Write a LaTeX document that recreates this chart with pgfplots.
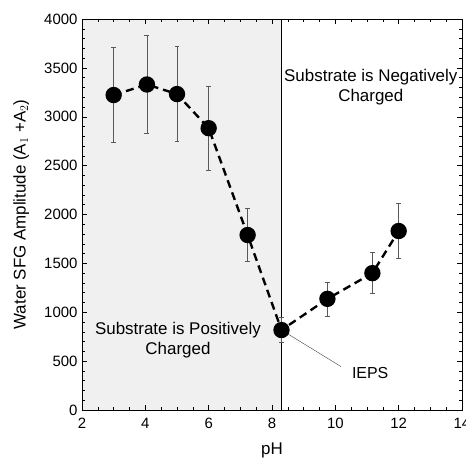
\documentclass[border=0pt]{standalone}
\usepackage{fontspec}
\setmainfont{Liberation Sans}
\usepackage{pgfplots}
\usetikzlibrary{calc}
\pgfplotsset{compat=1.18}
\begin{document}
\begin{tikzpicture}
\begin{axis}[
  scale only axis, width=380bp, height=391bp,
  xmin=2, xmax=14, ymin=0, ymax=4000,
  xtick={2,4,...,14}, ytick={0,500,...,4000},
  minor x tick num=3, minor y tick num=4,
  tick align=inside, tick pos=both,
  major tick length=5bp, minor tick length=3bp,
  tick style={black, line width=0.5pt},
  every tick label/.append style={font=\fontsize{15}{17}\selectfont},
  xticklabel style={yshift=-5bp},
  yticklabel style={xshift=-1bp},
  /pgf/number format/assume math mode=true,
  scaled y ticks=false,
  yticklabel style={/pgf/number format/1000 sep={}},
  xlabel={pH}, ylabel={Water SFG Amplitude (A$_1$ +A$_2$)},
  xlabel style={font=\fontsize{17}{18}\selectfont, at={(axis description cs:0.5,-0.115)}, anchor=base},
  ylabel style={font=\fontsize{17}{18}\selectfont, at={(axis description cs:-0.160,0.5)}, anchor=center},
  axis line style={black, line width=0.6pt},
  clip=false, axis on top,
]
\fill[gray!12] (axis cs:2,0) rectangle (axis cs:8.3,4000);
\draw[black, line width=0.5pt] (axis cs:8.3,0) -- (axis cs:8.3,4000);
\addplot[black, line width=2.4pt, dash pattern=on 8pt off 5pt,
  mark=*, mark size=7pt, mark options={solid, fill=black},
  error bars/.cd, y dir=both, y explicit,
  error bar style={gray!70!black, line width=0.6pt, solid},
  error mark options={rotate=90, mark size=2.5pt, gray!70!black, line width=0.6pt}]
coordinates {
(3,3222) +- (0,485)
(4.05,3330) +- (0,500)
(5,3232) +- (0,487)
(6,2883) +- (0,430)
(7.23,1790) +- (0,270)
(8.3,818) +- (0,130)
(9.75,1137) +- (0,174)
(11.17,1400) +- (0,210)
(12,1831) +- (0,280)
};
\draw[gray!50!black, line width=0.4pt] (axis cs:8.3,818) -- (axis cs:10.18,444);
\node[font=\fontsize{16}{17}\selectfont] at (axis cs:11.1,383) {IEPS};
\node[align=center, font=\fontsize{17}{20}\selectfont] at (axis cs:5.03,716) {Substrate is Positively\\Charged};
\node[align=center, font=\fontsize{17}{20}\selectfont] at (axis cs:11.12,3307) {Substrate is Negatively\\Charged};
\coordinate (sw) at (axis cs:2,0);
\coordinate (ne) at (axis cs:14,4000);
\end{axis}
\pgfresetboundingbox
\path[use as bounding box] ($(sw)+(-82bp,-48bp)$) rectangle ($(ne)+(4bp,19bp)$);
\end{tikzpicture}
\end{document}
